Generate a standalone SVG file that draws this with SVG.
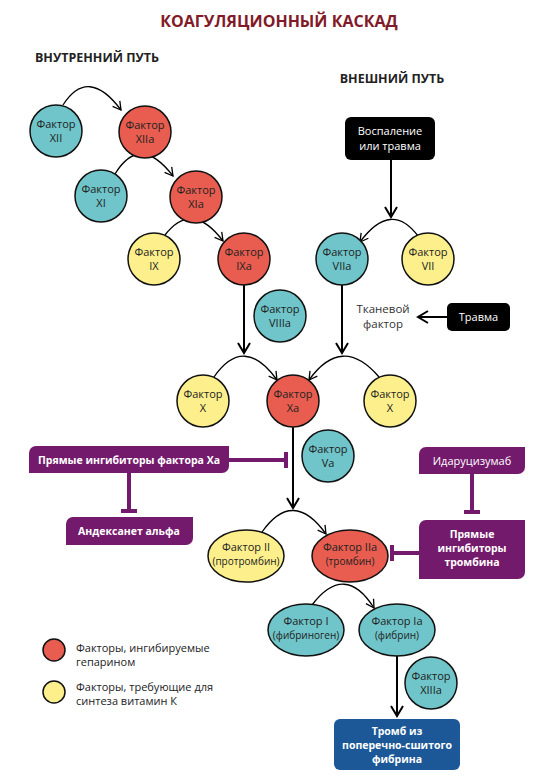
<svg xmlns="http://www.w3.org/2000/svg" width="550" height="783" viewBox="0 0 550 783">
<style>
text{font-family:"Open Sans","Noto Sans","Liberation Sans",sans-serif;text-anchor:middle;fill:#222}
.t{font-size:11px}
.s{font-size:10px}
.w{fill:#fff;font-size:11px}
.wb{fill:#fff;font-size:10.5px;font-weight:bold}
.lg{font-size:11px;text-anchor:start}
.tf{font-size:11.5px;fill:#333}
.n{stroke:#111;stroke-width:1.5}
.cy{fill:#6fc5c9}
.rd{fill:#e85d4f}
.yl{fill:#fdf08c}
.pp{fill:#741a6c}
.arc{fill:none;stroke:#000;stroke-width:1.3;marker-end:url(#ah)}
.va{fill:none;stroke:#000;stroke-width:2;marker-end:url(#ah2)}
.inh{fill:none;stroke:#741a6c;stroke-width:4}
</style>
<defs>
<marker id="ah" viewBox="-10 -6 12 12" refX="0" refY="0" markerWidth="12" markerHeight="12" markerUnits="userSpaceOnUse" orient="auto"><path d="M-8,-4.5 L0,0 L-8,4.5" fill="none" stroke="#000" stroke-width="1.3"/></marker>
<marker id="ah2" viewBox="-12 -8 14 16" refX="0" refY="0" markerWidth="14" markerHeight="16" markerUnits="userSpaceOnUse" orient="auto"><path d="M-10,-6 L0,0 L-10,6" fill="none" stroke="#000" stroke-width="2"/></marker>
</defs>
<rect width="550" height="783" fill="#fff"/>
<text x="279" y="27" style="font-size:16px;font-weight:bold;fill:#821a28">КОАГУЛЯЦИОННЫЙ КАСКАД</text>
<text x="97" y="62" style="font-size:12.5px;font-weight:bold">ВНУТРЕННИЙ ПУТЬ</text>
<text x="392" y="83" style="font-size:12.5px;font-weight:bold">ВНЕШНИЙ ПУТЬ</text>

<g id="connectors">
<path class="arc" d="M63,105 Q88,66 121,110"/>
<path class="arc" d="M115,174 Q140,133 173,176"/>
<path class="arc" d="M165,235 Q192,200 223,241"/>
<path class="arc" d="M418,236 Q391,200 360,242"/>
<path class="arc" d="M214,377 Q244,334 277,380"/>
<path class="arc" d="M379,377 Q342,334 309,380"/>
<path class="arc" d="M262,532 Q293,488 326,534"/>
<path class="arc" d="M312,605 Q345,562 374,608"/>
<path class="va" d="M391,160 V217"/>
<path class="va" d="M244,285 V353"/>
<path class="va" d="M342,285 V353"/>
<path class="va" d="M293,427 V508"/>
<path class="va" d="M397,656 V716"/>
<path class="va" d="M447,317 H418"/>
<path class="inh" d="M229,460 H286 M286,452 V468"/>
<path class="inh" d="M129,473 V511 M121,511 H137"/>
<path class="inh" d="M472,474 V512 M464,512 H480"/>
<path class="inh" d="M419,553 H392 M392,545 V561"/>
</g>

<g id="f12"><circle class="n cy" cx="56" cy="131" r="26"/><text class="t" x="56" y="128">Фактор</text><text class="t" x="56" y="142">XII</text></g>
<g id="f12a"><circle class="n rd" cx="145" cy="132" r="26"/><text class="t" x="145" y="129">Фактор</text><text class="t" x="145" y="143">XIIa</text></g>
<g id="f11"><circle class="n cy" cx="101" cy="196" r="26"/><text class="t" x="101" y="193">Фактор</text><text class="t" x="101" y="207">XI</text></g>
<g id="f11a"><circle class="n rd" cx="196" cy="197" r="26"/><text class="t" x="196" y="194">Фактор</text><text class="t" x="196" y="208">XIa</text></g>
<g id="f9"><circle class="n yl" cx="154" cy="259" r="26"/><text class="t" x="154" y="256">Фактор</text><text class="t" x="154" y="270">IX</text></g>
<g id="f9a"><circle class="n rd" cx="244" cy="259" r="26"/><text class="t" x="244" y="256">Фактор</text><text class="t" x="244" y="270">IXa</text></g>
<g id="f8a"><circle class="n cy" cx="280" cy="316" r="26"/><text class="t" x="280" y="313">Фактор</text><text class="t" x="280" y="327">VIIIa</text></g>
<g id="f7a"><circle class="n cy" cx="342" cy="259" r="26"/><text class="t" x="342" y="256">Фактор</text><text class="t" x="342" y="270">VIIa</text></g>
<g id="f7"><circle class="n yl" cx="428" cy="259" r="26"/><text class="t" x="428" y="256">Фактор</text><text class="t" x="428" y="270">VII</text></g>
<g id="f10l"><circle class="n yl" cx="203" cy="401" r="26"/><text class="t" x="203" y="398">Фактор</text><text class="t" x="203" y="412">X</text></g>
<g id="f10a"><circle class="n rd" cx="293" cy="401" r="26"/><text class="t" x="293" y="398">Фактор</text><text class="t" x="293" y="412">Xa</text></g>
<g id="f10r"><circle class="n yl" cx="390" cy="401" r="26"/><text class="t" x="390" y="398">Фактор</text><text class="t" x="390" y="412">X</text></g>
<g id="f5a"><circle class="n cy" cx="328" cy="456" r="26"/><text class="t" x="328" y="453">Фактор</text><text class="t" x="328" y="467">Va</text></g>
<g id="f13a"><circle class="n cy" cx="431" cy="683" r="26"/><text class="t" x="431" y="680">Фактор</text><text class="t" x="431" y="694">XIIIa</text></g>
<g id="f2"><ellipse class="n yl" cx="246" cy="556" rx="38" ry="26"/><text class="t" x="246" y="551">Фактор II</text><text class="s" x="246" y="565">(протромбин)</text></g>
<g id="f2a"><ellipse class="n rd" cx="350" cy="556" rx="38" ry="26"/><text class="t" x="350" y="551">Фактор IIa</text><text class="s" x="350" y="565">(тромбин)</text></g>
<g id="f1"><ellipse class="n cy" cx="306" cy="630" rx="38" ry="26"/><text class="t" x="306" y="625">Фактор I</text><text class="s" x="306" y="639">(фибриноген)</text></g>
<g id="f1a"><ellipse class="n cy" cx="397" cy="630" rx="38" ry="26"/><text class="t" x="397" y="625">Фактор Ia</text><text class="s" x="397" y="639">(фибрин)</text></g>

<g id="inflam"><rect x="345" y="117" width="90" height="43" rx="6" fill="#000"/><text class="w" x="390" y="135">Воспаление</text><text class="w" x="390" y="150">или травма</text></g>
<g id="trauma"><rect x="447" y="303" width="63" height="28" rx="5" fill="#000"/><text class="w" x="478.5" y="321">Травма</text></g>
<g id="tissue"><text class="tf" x="383" y="313">Тканевой</text><text class="tf" x="383" y="328">фактор</text></g>

<g id="xa_inh"><path class="pp" d="M36,446 H229 V466 A7,7 0 0 1 222,473 H29 V453 A7,7 0 0 1 36,446 Z"/><text class="wb" x="129" y="464">Прямые ингибиторы фактора Xa</text></g>
<g id="andexanet"><path class="pp" d="M73,517 H193 V538 A7,7 0 0 1 186,545 H66 V524 A7,7 0 0 1 73,517 Z"/><text class="wb" x="129" y="535">Андексанет альфа</text></g>
<g id="idarucizumab"><path class="pp" d="M426,447 H525 V467 A7,7 0 0 1 518,474 H419 V454 A7,7 0 0 1 426,447 Z"/><text class="w" x="472" y="465">Идаруцизумаб</text></g>
<g id="thr_inh"><path class="pp" d="M426,520 H525 V572 A7,7 0 0 1 518,579 H419 V527 A7,7 0 0 1 426,520 Z"/><text class="wb" x="472" y="538">Прямые</text><text class="wb" x="472" y="552">ингибиторы</text><text class="wb" x="472" y="566">тромбина</text></g>

<g id="clot"><rect x="334" y="719" width="126" height="51" rx="6" fill="#1c5797"/><text class="wb" x="397" y="735">Тромб из</text><text class="wb" x="397" y="749">поперечно-сшитого</text><text class="wb" x="397" y="763">фибрина</text></g>

<g id="legend">
<circle class="n rd" cx="54" cy="650" r="11"/>
<text class="lg" x="76" y="652">Факторы, ингибируемые</text>
<text class="lg" x="76" y="666">гепарином</text>
<circle class="n yl" cx="54" cy="692" r="11"/>
<text class="lg" x="76" y="691">Факторы, требующие для</text>
<text class="lg" x="76" y="705">синтеза витамин К</text>
</g>
</svg>
